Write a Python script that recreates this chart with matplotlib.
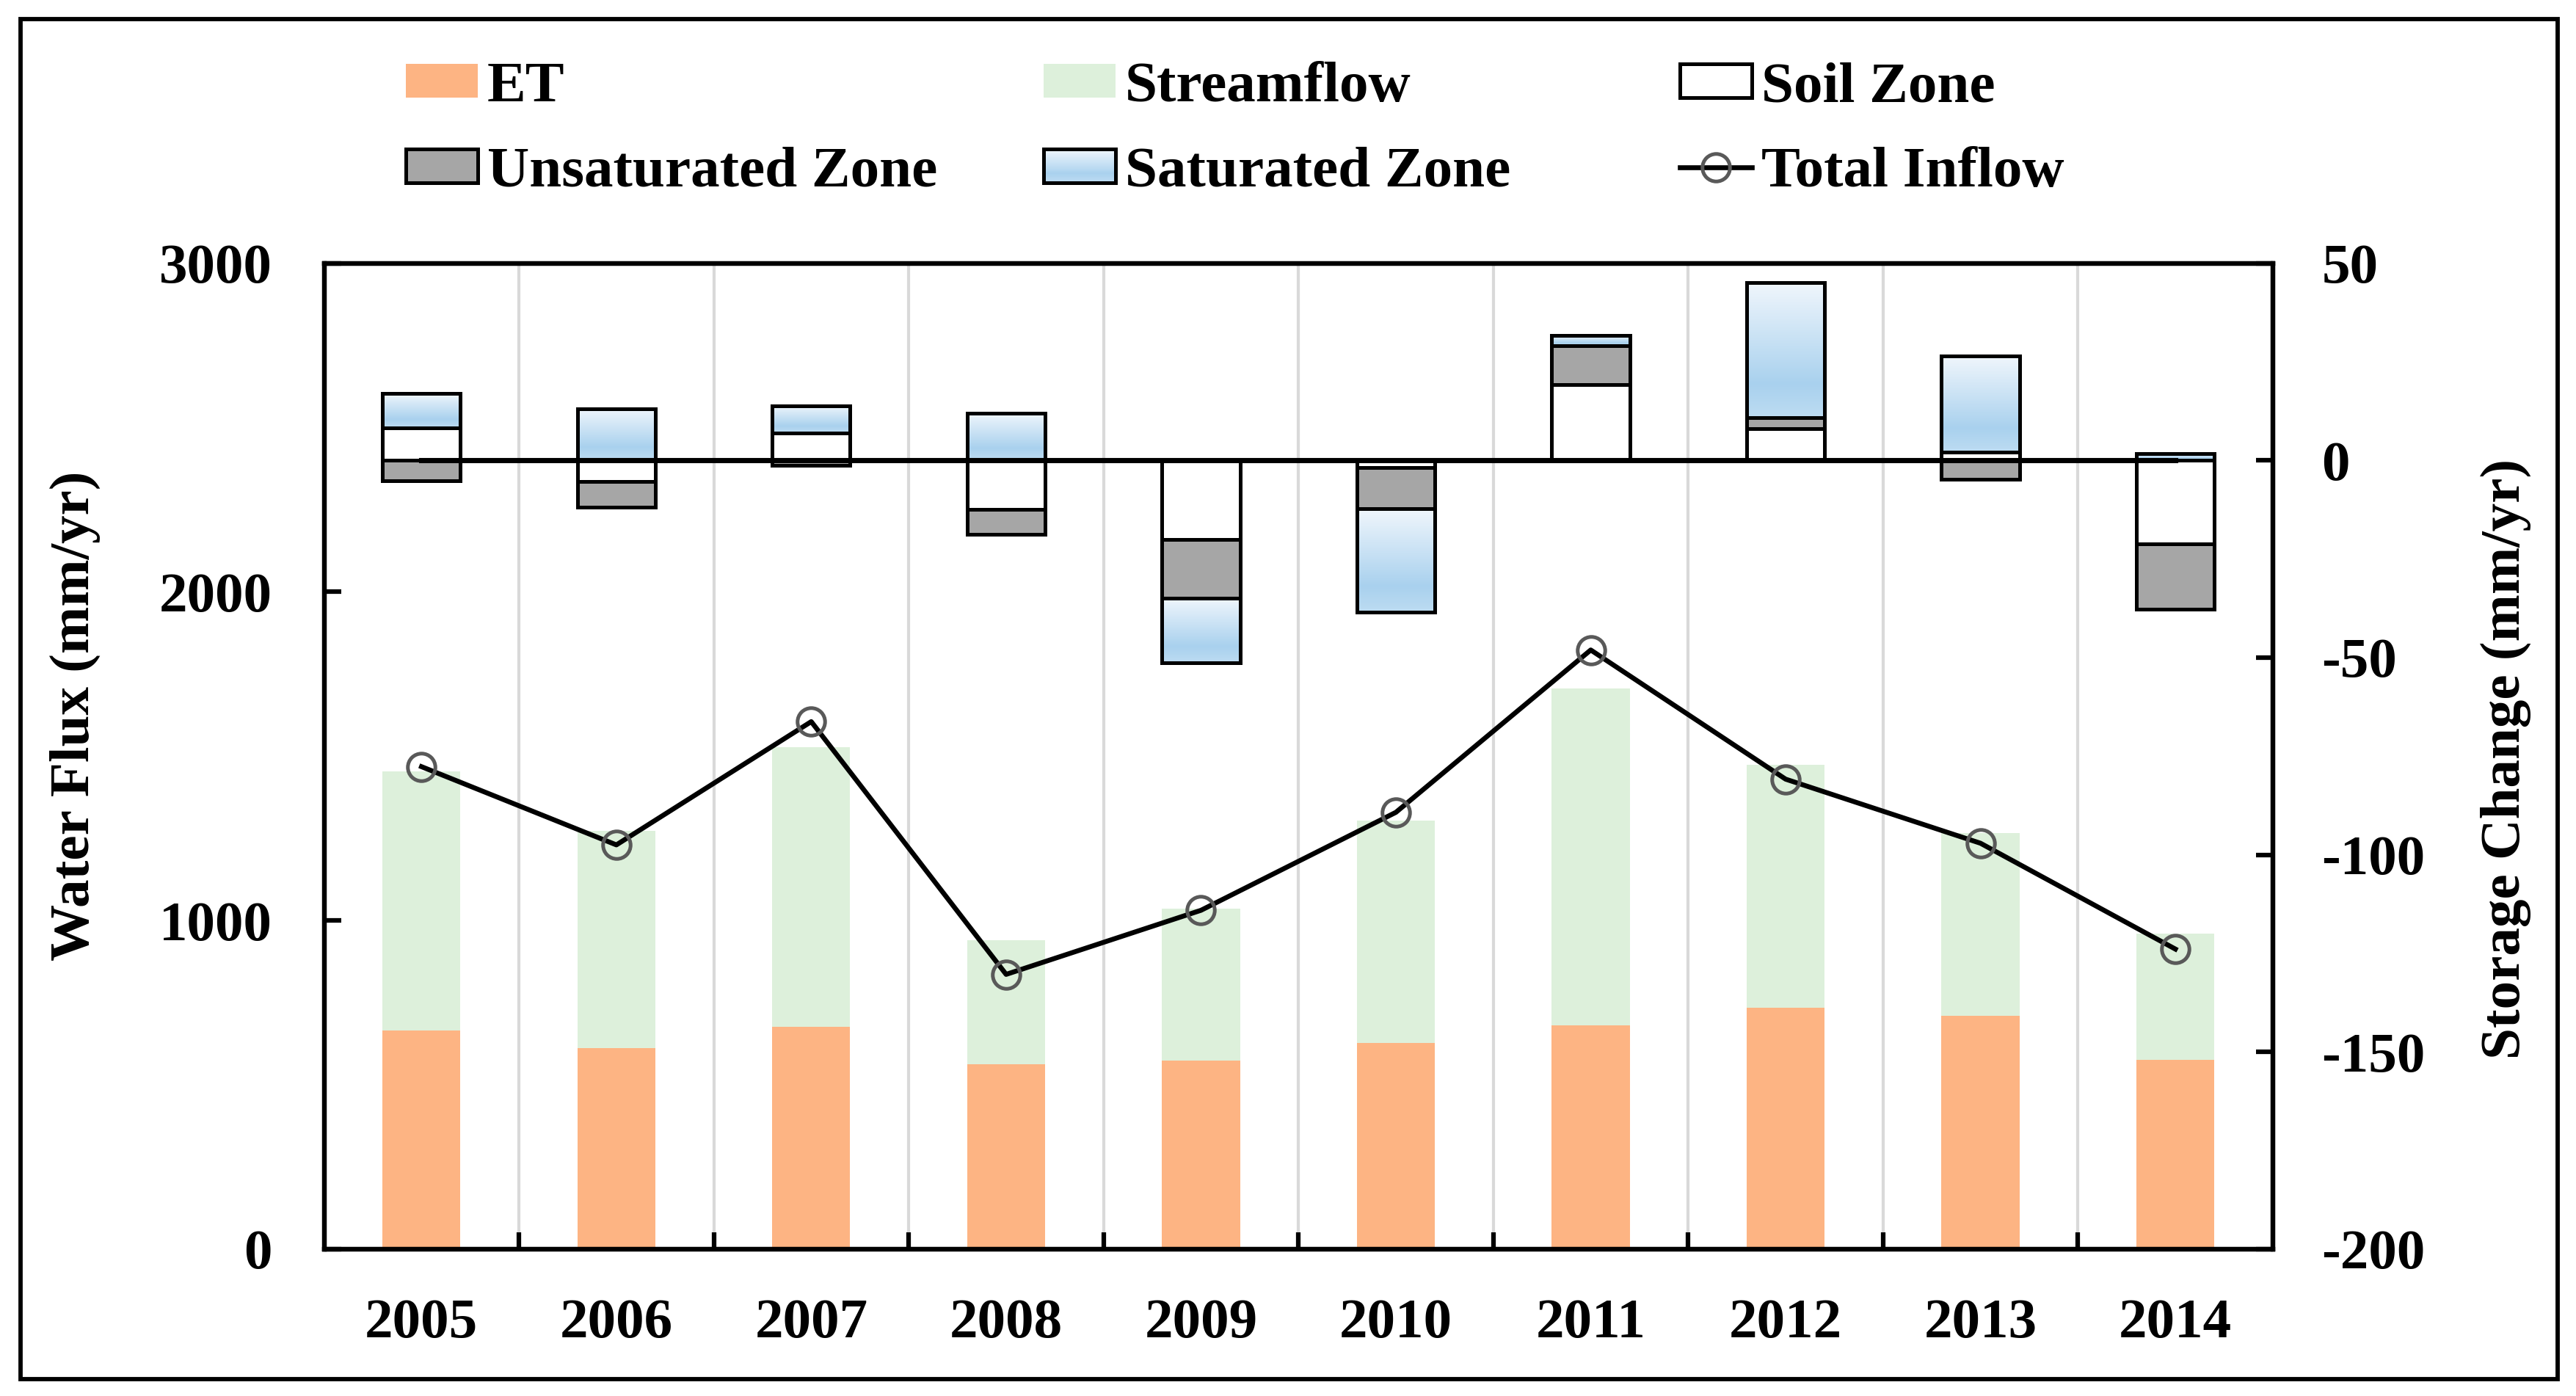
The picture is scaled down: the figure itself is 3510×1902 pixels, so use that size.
import numpy as np
import matplotlib
matplotlib.use("Agg")
import matplotlib.pyplot as plt
from matplotlib.patches import Rectangle, Patch
from matplotlib.lines import Line2D
from matplotlib.colors import LinearSegmentedColormap
from matplotlib.legend_handler import HandlerBase
from matplotlib.ticker import FixedLocator

plt.rcParams['font.family'] = ['Liberation Serif', 'DejaVu Serif']
plt.rcParams['font.weight'] = 'bold'
plt.rcParams['axes.labelweight'] = 'bold'
plt.rcParams['axes.unicode_minus'] = False

# données
years = ['2005', '2006', '2007', '2008', '2009', '2010', '2011', '2012', '2013', '2014']
et = [665, 611, 676, 562, 573, 627, 680, 735, 710, 577]
streamflow = [788, 662, 851, 378, 463, 677, 1025, 738, 555, 384]
total_inflow = [1468, 1230, 1605, 836, 1031, 1329, 1823, 1430, 1235, 913]
soil = [8.3, -5.4, 7.0, -12.5, -20.1, -1.8, 19.2, 8.1, 2.1, -21.2]
unsat = [-5.2, -6.5, -1.3, -6.3, -14.9, -10.4, 9.8, 2.7, -4.8, -16.6]
sat = [8.7, 13.1, 6.9, 12.0, -16.4, -26.2, 2.7, 34.2, 24.3, 1.7]

c_et = '#FDB483'
c_sf = '#DDF0DB'
c_unsat = '#A6A6A6'
sat_cmap = LinearSegmentedColormap.from_list(
    'sat', [(0.0, '#F0F6FC'), (0.75, '#A9D1EE'), (1.0, '#BDDCF2')])

FS = 18.5
FS_LEG = 19
x = np.arange(len(years))
w = 0.4

fig = plt.figure(figsize=(11.7, 6.34), dpi=300)
ax = fig.add_axes([0.1258, 0.1052, 0.7565, 0.7063])
ax2 = ax.twinx()

# flux (axe gauche)
ax.bar(x, et, w, color=c_et, zorder=2, label='ET')
ax.bar(x, streamflow, w, bottom=et, color=c_sf, zorder=2, label='Streamflow')
line_in, = ax.plot(x, total_inflow, color='black', lw=1.6, marker='o', ms=9,
                   mfc='none', mec='#595959', mew=1.2, zorder=4, label='Total Inflow')

# variations de stock (axe droit), empilement positif / négatif séparé
pos = np.zeros(len(x))
neg = np.zeros(len(x))
storage = [('Soil Zone', soil, 'white'), ('Unsaturated Zone', unsat, c_unsat),
           ('Saturated Zone', sat, None)]
grad = np.linspace(0, 1, 256).reshape(-1, 1)
for name, vals, col in storage:
    vals = np.array(vals)
    bottoms = np.where(vals >= 0, pos, neg)
    bars = ax2.bar(x, vals, w, bottom=bottoms, facecolor=col if col else 'none',
                   edgecolor='black', lw=1.2, zorder=3)
    if col is None:
        for p in bars.patches:
            y0, h = p.get_y(), p.get_height()
            lo, hi = min(y0, y0 + h), max(y0, y0 + h)
            im = ax2.imshow(grad, cmap=sat_cmap, aspect='auto', origin='upper',
                            extent=(p.get_x(), p.get_x() + p.get_width(), lo, hi),
                            interpolation='bilinear', zorder=2.5)
            im.set_clip_path(p)
    pos = np.where(vals >= 0, pos + vals, pos)
    neg = np.where(vals < 0, neg + vals, neg)
ax2.plot(x, np.zeros(len(x)), color='black', lw=1.7, zorder=5)

# axes
ax.set_xlim(-0.5, len(x) - 0.5)
ax.set_ylim(0, 3000)
ax.set_yticks([0, 1000, 2000, 3000])
ax2.set_ylim(-200, 50)
ax2.set_yticks(np.arange(-200, 51, 50))
ax.set_xticks(x)
ax.set_xticklabels(years)
ax.xaxis.set_minor_locator(FixedLocator(np.arange(0.5, len(x) - 0.5, 1)))
ax.set_axisbelow(True)
ax.grid(axis='x', which='minor', color='#D9D9D9', lw=1.0)
ax.grid(axis='x', which='major', visible=False)

ax.tick_params(axis='y', direction='in', length=5.5, width=1.5, pad=17, labelsize=FS)
ax.tick_params(axis='x', which='major', length=0, pad=16, labelsize=FS)
ax.tick_params(axis='x', which='minor', direction='in', length=5.5, width=1.5)
ax2.tick_params(axis='y', direction='in', length=5.5, width=1.5, pad=16, labelsize=FS)
for a in (ax, ax2):
    for s in a.spines.values():
        s.set_linewidth(1.5)

ax.set_ylabel('Water Flux (mm/yr)', fontsize=FS, fontweight='bold')
ax.yaxis.set_label_coords(-0.1147, 0.541)
ax2.set_ylabel('Storage Change (mm/yr)', fontsize=FS, fontweight='bold')
ax2.yaxis.set_label_coords(1.1067, 0.497)


class GradientHandler(HandlerBase):
    def create_artists(self, legend, orig_handle, xdescent, ydescent, width, height, fontsize, trans):
        n = 24
        arts = []
        for i in range(n):
            y = -ydescent + height * (1 - (i + 1) / n)
            arts.append(Rectangle((-xdescent, y), width, height / n, facecolor=sat_cmap(i / (n - 1)),
                                  edgecolor='none', transform=trans))
        arts.append(Rectangle((-xdescent, -ydescent), width, height, facecolor='none',
                              edgecolor='black', lw=1.2, transform=trans))
        return arts


h_et = Patch(facecolor=c_et, edgecolor='none')
h_sf = Patch(facecolor=c_sf, edgecolor='none')
h_soil = Patch(facecolor='white', edgecolor='black', lw=1.2)
h_unsat = Patch(facecolor=c_unsat, edgecolor='black', lw=1.2)
h_sat = Patch(facecolor='none', edgecolor='black', lw=1.2)
h_in = Line2D([], [], color='black', lw=1.6, marker='o', ms=9, mfc='none', mec='#595959', mew=1.2)

cols = [([h_et, h_unsat], ['ET', 'Unsaturated Zone'], 0.1575),
        ([h_sf, h_sat], ['Streamflow', 'Saturated Zone'], 0.4051),
        ([h_soil, h_in], ['Soil Zone', 'Total Inflow'], 0.6521)]
for handles, labels, xpos in cols:
    fig.legend(handles, labels, loc='center left', bbox_to_anchor=(xpos, 0.9066),
               frameon=False, fontsize=FS_LEG, handlelength=1.24, handleheight=0.52,
               handletextpad=0.16, labelspacing=0.56, borderpad=0, borderaxespad=0,
               numpoints=1, handler_map={h_sat: GradientHandler()})

# cadre extérieur
fig.patches.append(Rectangle((0.008, 0.0121), 0.9849, 0.9742, transform=fig.transFigure,
                             fill=False, edgecolor='black', lw=1.4))

fig.savefig('out.png', dpi=300)
